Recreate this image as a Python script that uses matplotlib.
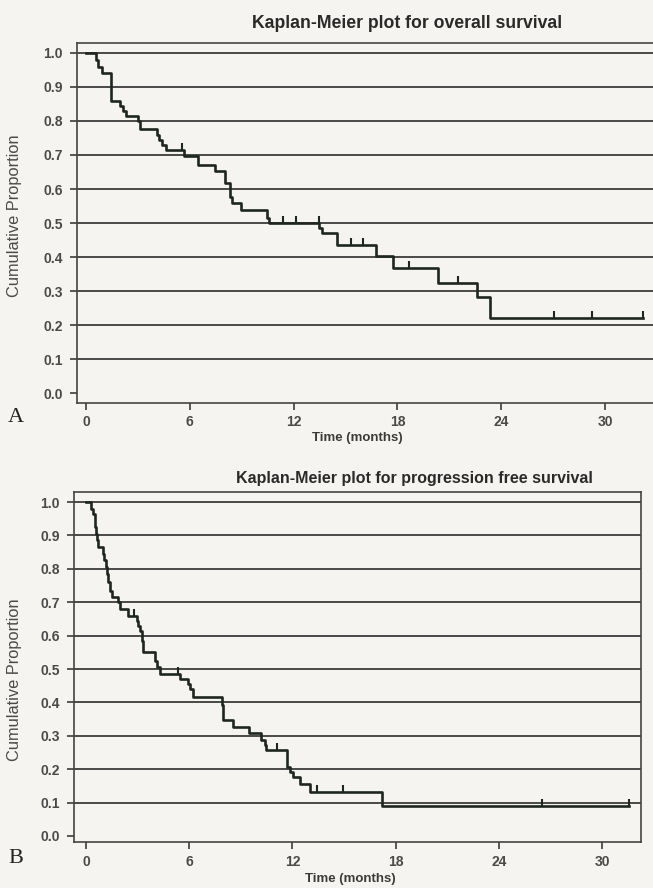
import matplotlib
matplotlib.use("Agg")
import matplotlib.pyplot as plt
import numpy as np

# overall survival (months, cumulative proportion after each step)
os_time = [0, 0.55, 0.7, 0.9, 1.47, 1.95, 2.15, 2.34, 3.0, 3.1, 4.08, 4.23, 4.37, 4.62,
           5.66, 6.49, 7.45, 8.05, 8.3, 8.45, 8.94, 10.47, 10.6, 13.48, 13.62, 14.52,
           16.75, 17.72, 20.33, 22.62, 23.35]
os_surv = [1.0, 0.979, 0.958, 0.941, 0.858, 0.843, 0.828, 0.816, 0.799, 0.776, 0.760, 0.745,
           0.730, 0.716, 0.696, 0.672, 0.652, 0.618, 0.578, 0.559, 0.539, 0.515, 0.500,
           0.485, 0.471, 0.436, 0.402, 0.368, 0.324, 0.284, 0.221]
os_censored = [5.52, 11.37, 12.14, 13.44, 15.31, 16.0, 18.65, 21.48, 27.05, 29.26, 32.2]

# progression free survival
pfs_time = [0, 0.3, 0.4, 0.5, 0.55, 0.6, 0.66, 0.72, 1.0, 1.06, 1.14, 1.21, 1.3, 1.4, 1.5,
            1.88, 1.98, 2.46, 2.95, 3.05, 3.15, 3.24, 3.34, 4.0, 4.11, 4.3, 5.47, 5.95,
            6.05, 6.24, 7.89, 7.98, 8.52, 9.5, 10.2, 10.41, 10.47, 11.71, 11.86, 12.05,
            12.45, 13.0, 17.22]
pfs_surv = [1.0, 0.98, 0.965, 0.945, 0.925, 0.905, 0.885, 0.865, 0.845, 0.825, 0.805, 0.785,
            0.76, 0.735, 0.715, 0.70, 0.68, 0.66, 0.645, 0.63, 0.615, 0.585, 0.55, 0.525,
            0.505, 0.485, 0.471, 0.456, 0.441, 0.416, 0.391, 0.346, 0.326, 0.307, 0.287,
            0.271, 0.257, 0.207, 0.192, 0.177, 0.157, 0.132, 0.09]
pfs_censored = [2.8, 5.37, 11.13, 13.41, 14.96, 26.5, 31.6]

x_ticks = [0, 6, 12, 18, 24, 30]
y_ticks = [0.0, 0.1, 0.2, 0.3, 0.4, 0.5, 0.6, 0.7, 0.8, 0.9, 1.0]

paper = '#f5f4f0'
ink = '#1d2720'
grid_color = '#3c3c3c'
label_color = '#4a4a4a'
sans = ['Liberation Sans', 'DejaVu Sans']
serif = ['Liberation Serif', 'DejaVu Serif']


def surv_at(t, times, surv):
    idx = np.searchsorted(times, t, side='right') - 1
    return surv[max(idx, 0)]


def draw_km(ax, times, surv, censored, xlim, ylim, show_right=True):
    ax.set_facecolor(paper)
    ax.set_xlim(*xlim)
    ax.set_ylim(*ylim)

    # full-width horizontal lines at 0.1 .. 1.0 (0.0 only has its tick)
    for y in y_ticks[1:]:
        ax.axhline(y, color=grid_color, lw=1.3, zorder=1)

    end = max(censored[-1], times[-1])
    ax.step(list(times) + [end], list(surv) + [surv[-1]], where='post',
            color=ink, lw=1.9, zorder=3)
    for c in censored:
        s = surv_at(c, times, surv)
        ax.vlines(c, s, s + 0.02, color=ink, lw=1.5, zorder=3)

    ax.set_xticks(x_ticks)
    ax.set_xticklabels([str(v) for v in x_ticks])
    ax.set_yticks(y_ticks)
    ax.set_yticklabels([f"{v:.1f}" for v in y_ticks])
    ax.tick_params(axis='both', direction='out', length=5, width=1.2, color=grid_color,
                   labelcolor=label_color, labelsize=10)
    ax.tick_params(axis='y', pad=5)
    ax.tick_params(axis='x', pad=4)
    for lab in ax.get_xticklabels() + ax.get_yticklabels():
        lab.set_fontweight('bold')
        lab.set_family(sans)

    for sp in ax.spines.values():
        sp.set_color('#444444')
        sp.set_linewidth(1.2)
    ax.spines['right'].set_visible(show_right)


fig = plt.figure(figsize=(6.53, 8.88), dpi=100)
fig.patch.set_facecolor(paper)

# panel A
ax1 = fig.add_axes([77 / 653, 1 - 403 / 888, 1 - 77 / 653, (403 - 43) / 888])
draw_km(ax1, os_time, os_surv, os_censored, (-0.52, 32.77), (-0.0285, 1.029), show_right=False)

# panel B
ax2 = fig.add_axes([74 / 653, 1 - 842 / 888, (641 - 74) / 653, (842 - 492) / 888])
draw_km(ax2, pfs_time, pfs_surv, pfs_censored, (-0.70, 32.27), (-0.018, 1.03))

fig.text(407 / 653, 1 - 23 / 888, "Kaplan-Meier plot for overall survival", ha='center',
         va='center', fontsize=12.7, fontweight='bold', color='#2a2a2a', family=sans)
fig.text(414 / 653, 1 - 478 / 888, "Kaplan-Meier plot for progression free survival",
         ha='center', va='center', fontsize=11.5, fontweight='bold', color='#2a2a2a', family=sans)

fig.text(15 / 653, 1 - 216 / 888, "Cumulative Proportion", rotation=90, ha='center',
         va='center', fontsize=11.8, color=label_color, family=sans)
fig.text(15 / 653, 1 - 680 / 888, "Cumulative Proportion", rotation=90, ha='center',
         va='center', fontsize=11.8, color=label_color, family=sans)

fig.text(357 / 653, 1 - 438 / 888, "Time (months)", ha='center', va='center',
         fontsize=9.5, fontweight='bold', color='#3a3a3a', family=sans)
fig.text(350 / 653, 1 - 879 / 888, "Time (months)", ha='center', va='center',
         fontsize=9.5, fontweight='bold', color='#3a3a3a', family=sans)

fig.text(16 / 653, 1 - 418 / 888, "A", ha='center', va='center', fontsize=16,
         family=serif, color='#222222')
fig.text(16 / 653, 1 - 858 / 888, "B", ha='center', va='center', fontsize=16,
         family=serif, color='#222222')

fig.savefig("out.png", dpi=100, facecolor=paper)
plt.close(fig)
